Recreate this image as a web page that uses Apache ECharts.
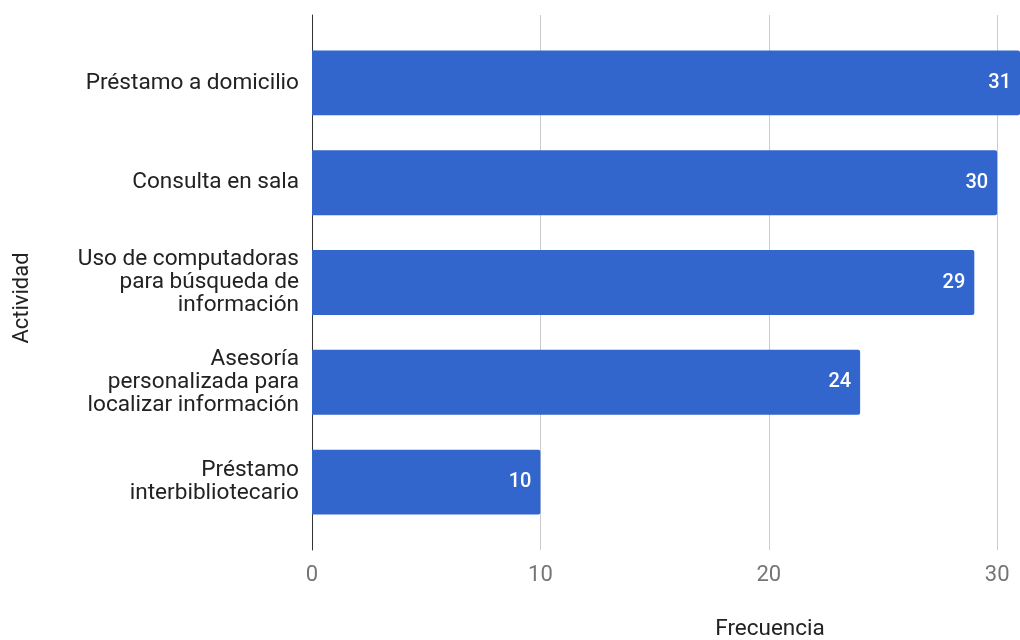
<!DOCTYPE html>
<html>
<head>
<meta charset="utf-8">
<script src="https://cdn.jsdelivr.net/npm/echarts@6/dist/echarts.min.js"></script>
<style>html,body{margin:0;padding:0;background:#fff}#c{width:1020px;height:640px}</style>
</head>
<body>
<div id="c"></div>
<script>
const categories = [
  "Préstamo a domicilio",
  "Consulta en sala",
  "Uso de computadoras\npara búsqueda de\ninformación",
  "Asesoría\npersonalizada para\nlocalizar información",
  "Préstamo\ninterbibliotecario"
];
const values = [31, 30, 29, 24, 10];
const xTicks = [0, 10, 20, 30];
const xName = "Frecuencia";
const yName = "Actividad";

const FONT = "Roboto, 'Noto Sans', sans-serif";
const chart = echarts.init(document.getElementById('c'), null, {renderer: 'canvas'});
chart.setOption({
  animation: false,
  textStyle: {fontFamily: FONT},
  grid: [
    {left: 312, right: 0, top: 15, bottom: 90},
    {left: 312, right: 0, top: 33, bottom: 108}
  ],
  xAxis: [
    {
      gridIndex: 0, type: 'value', min: 0, max: 31, interval: 10,
      axisLine: {show: false}, axisTick: {show: false},
      splitLine: {showMaxLine: false, lineStyle: {color: '#cccccc', width: 1}},
      axisLabel: {
        color: '#757575', fontSize: 22, margin: 14, fontFamily: FONT,
        showMaxLabel: false,
        formatter: v => xTicks.includes(v) ? String(v) : ''
      }
    },
    {gridIndex: 1, type: 'value', min: 0, max: 31, show: false}
  ],
  yAxis: [
    {
      gridIndex: 0, type: 'value', min: 0, max: 1,
      axisLine: {show: true, lineStyle: {color: '#333333', width: 1}},
      axisTick: {show: false}, axisLabel: {show: false}, splitLine: {show: false}
    },
    {
      gridIndex: 1, type: 'category', data: categories, inverse: true,
      axisLine: {show: false}, axisTick: {show: false},
      axisLabel: {color: '#222222', fontSize: 22.6, lineHeight: 23, margin: 13, align: 'right', fontFamily: FONT}
    }
  ],
  graphic: [
    {type: 'text', x: 22, y: 298, rotation: Math.PI / 2,
     style: {text: yName, fill: '#222222', fontSize: 22, fontFamily: FONT, align: 'center', verticalAlign: 'middle'}},
    {type: 'text', x: 770, y: 629,
     style: {text: xName, fill: '#222222', fontSize: 22.5, fontFamily: FONT, align: 'center', verticalAlign: 'middle'}}
  ],
  series: [{
    type: 'bar', xAxisIndex: 1, yAxisIndex: 1, data: values,
    barCategoryGap: '35%',
    itemStyle: {color: '#3366cc', borderRadius: [0, 2, 2, 0]},
    label: {show: true, position: 'insideRight', distance: 9, color: '#ffffff', fontSize: 20, fontWeight: 500, fontFamily: FONT},
    z: 1
  }]
});
</script>
</body>
</html>
